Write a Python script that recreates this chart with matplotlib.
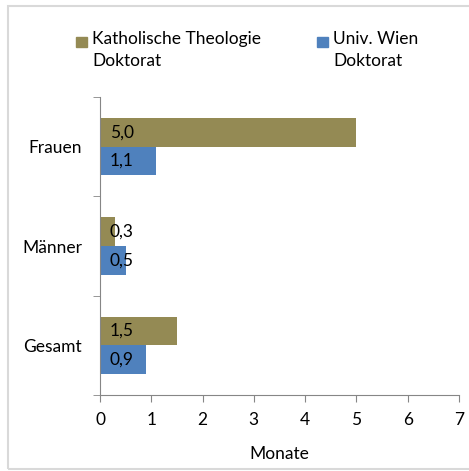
import numpy as np
import matplotlib.pyplot as plt
from matplotlib.patches import Rectangle

plt.rcParams['font.family'] = ['Lato', 'DejaVu Sans']

categories = ['Frauen', 'Männer', 'Gesamt']
theologie = [5.0, 0.3, 1.5]
wien = [1.1, 0.5, 0.9]
series_names = ['Katholische Theologie\nDoktorat', 'Univ. Wien\nDoktorat']

col_olive = '#948A54'
col_blue = '#4F81BD'
fs = 12.5
W, H = 469, 471

fig = plt.figure(figsize=(4.69, 4.71), dpi=100)
fig.patches.append(Rectangle((8 / W, 0.004), 1.2, 1 - 6 / H - 0.004, transform=fig.transFigure,
                             fill=False, edgecolor='#D9D9D9', linewidth=1.5))
ax = fig.add_axes([100 / W, 1 - 395 / H, 359 / W, 298 / H])

n = len(categories)
pos = np.arange(n)[::-1]  # Frauen oben
h = 0.29
b1 = ax.barh(pos + h / 2, theologie, height=h, color=col_olive)
b2 = ax.barh(pos - h / 2, wien, height=h, color=col_blue)

for bars, vals in [(b1, theologie), (b2, wien)]:
    for bar, v in zip(bars, vals):
        ax.annotate(f'{v:.1f}'.replace('.', ','), (0, bar.get_y() + bar.get_height() / 2),
                    xytext=(7, 0), textcoords='offset points', va='center', ha='left',
                    fontsize=fs, color='black')

ax.set_xlim(0, 7)
ax.set_ylim(-0.5, n - 0.5)
ax.set_xticks(range(8))
ax.set_yticks(pos)
ax.set_yticklabels(categories)
ax.set_yticks(np.arange(-0.5, n, 1), minor=True)
ax.tick_params(axis='y', which='major', length=0, pad=13, labelsize=fs)
ax.tick_params(axis='y', which='minor', length=5, color='#868686')
ax.tick_params(axis='x', length=5, color='#868686', pad=7, labelsize=fs)
for s in ['top', 'right']:
    ax.spines[s].set_visible(False)
for s in ['left', 'bottom']:
    ax.spines[s].set_color('#868686')
ax.set_xlabel('Monate', fontsize=fs, labelpad=13)

# Legende von Hand (Kästchen an der ersten Zeile)
for x0, col, name in [(76, col_olive, series_names[0]), (317, col_blue, series_names[1])]:
    fig.patches.append(Rectangle((x0 / W, 1 - 47 / H), 11 / W, 10 / H,
                                 transform=fig.transFigure, color=col))
    fig.text((x0 + 16) / W, 1 - 31 / H, name, fontsize=fs, va='top', ha='left',
             linespacing=1.45)

fig.savefig('out.png', dpi=100)
